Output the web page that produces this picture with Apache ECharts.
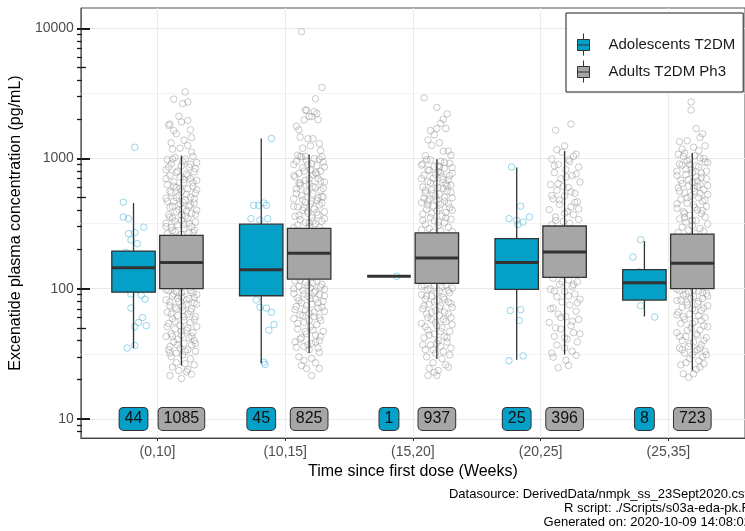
<!DOCTYPE html>
<html>
<head>
<meta charset="utf-8">
<script src="https://cdn.jsdelivr.net/npm/echarts@6/dist/echarts.min.js"></script>
<style>
  html, body { margin: 0; padding: 0; background: #fff; }
  #chart { width: 745px; height: 531px; }
</style>
</head>
<body>
<div id="chart"></div>
<script>
// categories / groups
const categories = ['(0,10]', '(10,15]', '(15,20]', '(20,25]', '(25,35]'];
const groups = ['Adolescents T2DM', 'Adults T2DM Ph3'];
const yTicks = [10, 100, 1000, 10000];
// annotation_logticks style marks + minor grid (half decades)
const logMinorTicks = [8, 9, 20, 30, 40, 60, 70, 80, 90, 200, 300, 400, 600, 700, 800, 900,
  2000, 3000, 4000, 6000, 7000, 8000, 9000];
const logMidTicks = [50, 500, 5000];
const halfDecades = [31.623, 316.23, 3162.3];

// box stats per bin: [lower whisker, Q1, median, Q3, upper whisker]
const adolBox = [
  [35, 94, 145, 194.5, 455],
  [26.8, 88.3, 140, 313, 1426],
  [124.5, 124.5, 124.5, 124.5, 124.5],
  [28.4, 98.9, 159, 242.5, 853],
  [61.2, 81.7, 111, 140, 232]
];
const adultBox = [
  [25.7, 100, 159, 257, 1054],
  [32, 118.6, 187, 291, 1074],
  [28.9, 110, 172, 268, 989],
  [31.2, 122, 191, 303, 1138],
  [23.5, 100, 157, 263, 1104]
];

// n per bin
const adolCount = [44, 45, 1, 25, 8];
const adultCount = [1085, 825, 937, 396, 723];

// observations: [jitter (1/100 of a bin), concentration]
const adolPoints = [
  [[1,1220],[-8,462],[-8,355],[-4,345],[8,297],[-4,265],[1,270],[-2,237],[3,222],[-2,91],[6,89],[9,83],[-2,71],[7,60],[1,51],[10,52],[4,55],[-5,35],[1,36.6],
   [0,150],[-5,120],[4,180],[-3,105],[6,130],[-7,160],[2,112],[8,175],[-1,140],[3,98],[-6,190],[5,155]],
  [[8,1426],[-6,437],[-2,437],[2,455],[4,437],[-8,345],[-1,336],[5,345],[-4,82],[-1,72],[4,71],[8,66],[10,53],[6,48],[2,27.3],[3,26.2],
   [0,120],[-5,150],[6,200],[-3,250],[2,180],[-7,100],[5,110],[-1,290],[8,230],[-4,95]],
  [[6,124.5]],
  [[-4,861],[3,430],[-6,345],[1,311],[5,325],[10,356],[0,335],[-5,68],[3,69],[2,57],[-6,28],[5,30.5],
   [0,150],[-4,200],[6,120],[-2,105],[3,230],[-7,170],[7,140]],
  [[-3,238],[-9,175],[-3,74],[8,60.5],[0,120],[3,100],[-4,135],[6,90]]
];
const adultPoints = [
  [[3,3250],[-6,2860],[1,2640],[5,2720],[-2,2115],[-9,1840],[-6,1640],[0,1910],[5,1960],[7,1660],[-8,1320],[-4,1550],[5,1260],[-1,1200],[8,1120],[-10,1800],[8,1450],[-7,1180],[2,1380],
   [-11,980],[-5,1020],[3,990],[9,1040],[12,930],[-8,910],[0,880],[6,860],[-12,820],[-3,800],[10,790],[4,760],[-9,740],[-1,720],[7,700],[12,680],[-6,660],[2,650],[-11,630],[9,610],[-4,600],[5,585],[0,560],[-8,545],[11,540],[-2,520],[7,505],[-12,495],[3,480],[-6,470],[10,455],[-1,445],[6,430],[-9,420],[1,410],[12,400],[-4,390],[8,380],[-10,370],[3,360],[-7,350],[5,345],[0,335],[11,325],[-12,318],[-3,310],[8,300],[-8,295],[2,290],[10,282],[-5,275],[6,268],[-11,265],[0,262],
   [-7,990],[1,945],[7,905],[-10,860],[11,835],[-4,780],[5,735],[-12,700],[2,690],[9,655],[-6,615],[-1,590],[12,575],[-9,560],[4,530],[-4,500],[10,490],[-11,470],[1,462],[7,440],[-7,430],[-2,405],[4,395],[11,372],[-9,355],[0,370],[-5,330],[6,318],[-12,300],[2,310],[9,270],[-7,280],
   [-10,97],[-4,95],[3,96],[9,93],[12,90],[-7,88],[0,86],[6,84],[-12,82],[-2,80],[10,78],[4,76],[-9,74],[-5,72],[8,70],[1,68],[-11,66],[5,64],[-3,62],[11,61],[-7,59],[2,57],[7,55],[-10,54],[-1,52],[12,51],[-5,49],[4,48],[9,46],[-8,45],[0,44],[-12,43],[6,42],[-3,41],[10,40],[-6,39],[2,38],[8,37],[-9,36],[-1,35],[5,34],[11,33],[-4,32],[1,31],
   [-12,98],[7,97],[0,93],[-6,91],[10,86],[-3,84],[4,82],[-9,79],[12,76],[1,73],[-4,70],[7,67],[-8,64],[2,61],[10,58],[-5,56],[-11,51],[5,50],[0,47],[-7,43],[8,43],[11,38],[-3,37],[3,33],[-10,34],
   [-9,32],[-8,30],[7,29],[-4,27],[3,26.5],[10,26],[-7,25],[5,24],[-2,23.5],[4,23],[-9,21.5],[0,20.4],[8,22]],
  [[-6,9420],[10,3515],[5,2880],[-3,2355],[6,2220],[0,2100],[-4,1980],[-8,1660],[-1,1420],[3,1420],[8,1300],[-7,1460],[-7,1040],[-3,1040],[10,1030],[-10,1770],[-2,2350],[2,2100],[7,1985],[4,2290],[-5,1200],[9,1150],[1,1250],
   [-9,1060],[4,1000],[-2,960],[11,940],[-12,900],[6,880],[-5,850],[1,820],[9,800],[-8,770],[3,745],[-11,720],[7,700],[-3,680],[12,660],[0,640],[-7,620],[5,600],[-10,585],[9,570],[-1,550],[3,535],[-6,520],[11,505],[-12,490],[6,475],[-3,460],[1,450],[8,440],[-9,425],[4,410],[-5,400],[12,390],[-1,380],[7,368],[-11,360],[2,350],[-7,340],[10,330],[-3,322],[5,315],[-9,308],[0,300],[8,296],[-12,294],[3,330],[-4,420],[10,510],[-8,640],[6,760],[-1,900],
   [-6,1030],[8,990],[-10,950],[2,910],[12,860],[-4,800],[5,780],[-12,740],[0,700],[9,670],[-7,650],[3,610],[11,590],[-2,565],[-10,540],[7,500],[-5,480],[2,470],[10,455],[-12,430],[-1,395],[6,385],[-8,365],[12,345],[0,320],
   [-11,115],[-3,112],[6,114],[10,108],[-8,104],[1,102],[12,99],[-5,97],[4,94],[-12,92],[8,90],[-1,87],[-9,85],[5,83],[11,80],[-6,78],[2,76],[-10,73],[7,71],[-3,69],[12,67],[0,65],[-7,63],[4,61],[-12,59],[9,57],[-4,55],[6,53],[1,51],[-9,49],[11,47],[-2,45],[5,44],[-6,42],[8,40],[-11,39],[2,38],[-4,36],[7,35],[0,34],
   [-7,116],[3,110],[-1,106],[9,103],[-12,100],[5,96],[-4,91],[12,88],[1,84],[-8,81],[7,78],[-2,74],[10,72],[-11,69],[4,66],[-5,62],[8,60],[0,57],[-9,54],[3,48],[-3,47],[9,43],[-7,41],[5,39],[-1,37],
   [-10,35.5],[-6,25.7],[-2,24.4],[2,21.5],[8,24.4],[8,32.4],[2,29.1],[-4,28],[5,27],[-8,30]],
  [[-10,2925],[0,2470],[8,2200],[5,2000],[3,1865],[0,1700],[-5,1640],[-7,1390],[-4,1260],[5,1140],[9,1140],[-2,1520],[2,1320],[-9,1050],[11,1060],[7,1700],
   [-8,980],[3,950],[10,920],[-12,890],[-2,870],[6,840],[-6,810],[1,790],[12,770],[-10,745],[4,725],[-3,705],[9,685],[-7,665],[0,645],[11,625],[-11,605],[5,590],[-4,575],[8,560],[-9,545],[2,530],[-1,515],[12,500],[-6,485],[6,470],[-12,458],[3,445],[-3,432],[10,420],[-8,408],[0,396],[7,385],[-11,374],[4,363],[-5,352],[11,342],[-2,332],[6,322],[-9,313],[1,305],[9,297],[-6,290],[-12,283],[3,278],[12,275],[-3,272],[7,640],[-7,470],[2,860],
   [-5,975],[6,930],[-11,910],[1,880],[12,850],[-7,820],[3,780],[-1,755],[10,740],[-12,700],[5,690],[-5,650],[8,615],[1,600],[-9,570],[11,550],[-3,540],[6,505],[-10,495],[0,480],[9,450],[-7,440],[2,415],[12,400],[-4,380],[7,350],[-11,335],[1,325],
   [-10,107],[-2,105],[7,106],[12,101],[-7,98],[2,96],[10,93],[-12,90],[-4,88],[5,86],[-9,83],[0,81],[9,79],[-6,76],[3,74],[12,72],[-11,70],[-1,68],[6,66],[-8,64],[2,62],[11,60],[-4,58],[7,56],[-12,54],[0,52],[4,50],[-7,48],[10,47],[-2,45],[6,43],[-10,42],[1,40],[8,39],[-5,37],[3,36],[-9,34],[5,33],[-1,32],[10,31],
   [-12,104],[4,103],[-5,100],[9,97],[0,92],[-8,88],[6,83],[-2,79],[11,77],[-10,74],[2,71],[-4,66],[9,64],[-7,60],[5,58],[-1,55],[12,53],[-9,51],[3,47],[-6,44],[8,42],[0,38],[-11,37],[11,35],[-3,34],
   [-8,30],[4,29],[-3,27],[7,26],[-6,24.5],[1,23.5],[9,25],[-7,21.5],[0,21.5],[-2,22.8]],
  [[5,1837],[-7,1650],[-6,1170],[7,1040],[0,1250],
   [-2,1120],[9,1080],[-10,990],[4,950],[-5,900],[11,860],[1,820],[-8,780],[6,740],[-3,700],[12,660],[-11,630],[3,600],[-6,570],[8,540],[0,515],[-9,490],[10,465],[-4,445],[5,425],[-12,405],[2,390],[7,370],[-7,355],[11,340],[-1,328],[4,318],[-10,310],[8,460],[-5,640],[1,720],
   [3,980],[-8,880],[9,760],[-1,610],[5,555],[-10,520],[-4,480],[11,410],[0,380],[-7,335],
   [-9,120],[3,117],[10,113],[-4,108],[6,104],[-11,99],[0,95],[8,91],[-6,87],[12,83],[-2,79],[4,75],[-9,71],[9,67],[-5,64],[1,61],[11,58],[-12,55],[5,52],[-3,49],[7,46],[-8,43],[2,41],[10,39],[-6,37],[0,35],[6,33],[-10,32],
   [-2,113],[7,108],[-8,96],[3,88],[10,78],[-11,70],[-3,60],[6,56],[-7,50],[12,45],[0,42],
   [-9,29.8],[-5,24.7],[1,28.2],[9,30.7],[3,25.7]],
  [[-1,2720],[-1,2355],[8,1550],[-10,1350],[-4,1370],[-6,1100],[6,1450],[3,1700],[-8,1180],[10,1250],[1,1220],[5,1150],
   [-11,1080],[2,1050],[9,1000],[-4,960],[12,930],[-8,890],[5,860],[-1,830],[-12,800],[7,775],[-5,750],[3,725],[11,700],[-9,680],[0,655],[6,635],[-3,615],[-11,595],[9,575],[2,560],[-6,545],[12,530],[-1,515],[5,500],[-9,485],[8,470],[-4,455],[1,440],[11,428],[-12,415],[4,402],[-7,390],[7,378],[-2,366],[10,355],[-10,344],[3,334],[-5,324],[12,314],[0,305],[-8,297],[6,290],[-3,282],[9,276],[-11,270],[2,266],[-6,380],[4,610],[-2,900],
   [-7,1040],[6,1010],[-2,980],[10,940],[-10,910],[3,880],[-5,830],[11,800],[0,780],[-12,740],[7,715],[-3,690],[4,670],[-8,640],[12,620],[1,590],[-10,560],[6,540],[-4,500],[10,480],[-12,450],[2,420],[8,400],[-6,350],[0,335],
   [-10,97],[-3,95],[5,96],[11,92],[-7,89],[1,87],[8,84],[-12,81],[-4,79],[4,77],[12,74],[-8,72],[0,70],[7,68],[-11,66],[-2,64],[5,62],[10,60],[-6,58],[2,56],[-9,54],[9,52],[-1,50],[6,48],[-12,46],[3,45],[-5,43],[11,42],[-8,40],[1,39],[7,37],[-3,36],[-10,35],[4,34],[10,33],[-6,32],[0,31],[8,30],[-2,29],[5,28],
   [-12,99],[1,98],[8,93],[-5,91],[12,88],[-1,84],[-9,82],[5,80],[-4,75],[9,71],[2,68],[-12,63],[-7,61],[7,57],[0,54],[12,51],[-4,48],[4,44],[-10,43],[9,40],[-2,38],[6,35],[-8,34],[2,33],[11,31],
   [-7,22.2],[-3,20.9],[1,22.2],[-9,26],[6,25],[3,24],[-5,27],[9,26.5]]
];

const footerLines = [
  'Datasource: DerivedData/nmpk_ss_23Sept2020.csv',
  'R script: ./Scripts/s03a-eda-pk.R',
  'Generated on: 2020-10-09 14:08:02'
];

const BLUE = '#05a0c8';
const GREY = '#a6a6a6';
const INK = '#333333';
const DODGE = 0.1875;   // ggplot dodge offset
const BOX_W = 0.34;
const LABEL_Y = 10;     // counts are written at y = 10
const Y_MIN = 7.13, Y_MAX = 14330;
const GRID_W = 668;
const FONT = '"Liberation Sans", Arial, Helvetica, sans-serif';

function jitter(points, offset) {
  const out = [];
  points.forEach(function (grp, i) {
    grp.forEach(function (p) { out.push([i + offset + p[0] / 100, p[1]]); });
  });
  return out;
}

function boxItem(offset, fill) {
  return function (params, api) {
    const x = api.value(0) + offset;
    const lo = api.coord([x, api.value(1)]);
    const q1 = api.coord([x, api.value(2)]);
    const med = api.coord([x, api.value(3)]);
    const q3 = api.coord([x, api.value(4)]);
    const hi = api.coord([x, api.value(5)]);
    const half = api.size([BOX_W, 0], [x, 10])[0] / 2;
    const line = { stroke: INK, lineWidth: 1.3 };
    return {
      type: 'group',
      children: [
        { type: 'line', shape: { x1: hi[0], y1: hi[1], x2: q3[0], y2: q3[1] }, style: line },
        { type: 'line', shape: { x1: q1[0], y1: q1[1], x2: lo[0], y2: lo[1] }, style: line },
        { type: 'rect', shape: { x: q3[0] - half, y: q3[1], width: half * 2, height: q1[1] - q3[1] },
          style: { fill: fill, stroke: INK, lineWidth: 1.3 } },
        { type: 'line', shape: { x1: med[0] - half, y1: med[1], x2: med[0] + half, y2: med[1] },
          style: { stroke: INK, lineWidth: 3 } }
      ]
    };
  };
}

function countItem(offset, fill) {
  return function (params, api) {
    const p = api.coord([api.value(0) + offset, LABEL_Y]);
    return {
      type: 'text', x: p[0], y: p[1],
      style: {
        text: String(api.value(1)), align: 'center', verticalAlign: 'middle',
        fontSize: 16, fontFamily: FONT, fill: '#111',
        backgroundColor: fill, borderColor: INK, borderWidth: 1, borderRadius: 4,
        padding: [4, 5, 2, 5]
      }
    };
  };
}

const chart = echarts.init(document.getElementById('chart'));

// extra log axes only used for tick marks / minor grid.
// They sit on the right, shifted back onto the left panel edge, ticks pointing into the panel.
function tickAxis(values, len, color, width, z) {
  return {
    type: 'log', min: Y_MIN, max: Y_MAX, position: 'right', offset: -GRID_W, z: z,
    axisLine: { show: false, onZero: false }, axisLabel: { show: false }, splitLine: { show: false },
    axisTick: { inside: false, length: len, lineStyle: { color: color, width: width }, customValues: values }
  };
}

chart.setOption({
  animation: false,
  textStyle: { fontFamily: FONT },
  grid: { left: 80, top: 8, width: GRID_W, height: 430, show: true, borderColor: '#555', borderWidth: 1 },
  legend: {
    data: groups, orient: 'vertical', left: 566, top: 13,
    padding: [20, 8, 9, 11], itemWidth: 12, itemHeight: 22, itemGap: 4,
    icon: 'path://M6,0L6,6M0,6L12,6L12,17L0,17ZM0,11.5L12,11.5M6,17L6,22',
    itemStyle: { borderColor: INK, borderWidth: 1 },
    textStyle: { fontSize: 15, color: '#1a1a1a', padding: [0, 0, 0, 14] },
    borderColor: '#1a1a1a', borderWidth: 1, backgroundColor: '#fff'
  },
  xAxis: {
    type: 'value', min: -0.6, max: 4.6, splitNumber: 5,
    axisLine: { lineStyle: { color: '#444' } },
    axisTick: { length: 3, lineStyle: { color: '#333' }, customValues: [0, 1, 2, 3, 4] },
    axisLabel: {
      customValues: [0, 1, 2, 3, 4], fontSize: 14, color: '#4d4d4d', margin: 7,
      formatter: function (v) { return Number.isInteger(v) ? categories[v] : ''; }
    },
    splitLine: { lineStyle: { color: '#ebebeb' } },
    name: 'Time since first dose (Weeks)', nameLocation: 'middle', nameGap: 22,
    nameTextStyle: { fontSize: 16, color: '#000' }
  },
  yAxis: [
    {
      type: 'log', min: Y_MIN, max: Y_MAX, position: 'left', z: 1,
      axisLine: { onZero: false, lineStyle: { color: '#666' } },
      axisTick: { length: 3, lineStyle: { color: '#333' }, customValues: yTicks },
      axisLabel: {
        customValues: yTicks, fontSize: 14, color: '#4d4d4d', margin: 7,
        formatter: function (v) { return yTicks.indexOf(Math.round(v)) >= 0 ? String(Math.round(v)) : ''; }
      },
      splitLine: { lineStyle: { color: '#e8e8e8' } },
      name: 'Excenatide plasma concentration (pg/mL)', nameLocation: 'middle', nameGap: 51, nameRotate: 90,
      nameTextStyle: { fontSize: 16, color: '#000' }
    },
    tickAxis(yTicks, 13, '#1a1a1a', 2, 2),
    tickAxis(logMinorTicks, 5, '#1a1a1a', 1.3, 2),
    tickAxis(logMidTicks, 9, '#1a1a1a', 1.3, 2),
    // minor grid at half decades, drawn as full-width light ticks
    tickAxis(halfDecades, GRID_W, '#f0f0f0', 0.8, 0)
  ],
  series: [
    {
      name: 'adult obs', type: 'scatter', z: 1, silent: true, symbol: 'circle', symbolSize: 6.5,
      itemStyle: { color: 'rgba(0,0,0,0)', borderColor: 'rgba(145,145,145,0.6)', borderWidth: 1 },
      data: jitter(adultPoints, DODGE)
    },
    {
      name: 'adol obs', type: 'scatter', z: 1, silent: true, symbol: 'circle', symbolSize: 6.5,
      itemStyle: { color: 'rgba(0,0,0,0)', borderColor: 'rgba(80,185,222,0.75)', borderWidth: 1 },
      data: jitter(adolPoints, -DODGE)
    },
    {
      name: groups[0], type: 'custom', z: 3, silent: true, itemStyle: { color: BLUE },
      renderItem: boxItem(-DODGE, BLUE), encode: { x: 0, y: [1, 2, 3, 4, 5] },
      data: adolBox.map(function (b, i) { return [i].concat(b); })
    },
    {
      name: groups[1], type: 'custom', z: 3, silent: true, itemStyle: { color: GREY },
      renderItem: boxItem(DODGE, GREY), encode: { x: 0, y: [1, 2, 3, 4, 5] },
      data: adultBox.map(function (b, i) { return [i].concat(b); })
    },
    {
      name: 'adol n', type: 'custom', z: 4, silent: true,
      renderItem: countItem(-DODGE, BLUE), encode: { x: 0 },
      data: adolCount.map(function (n, i) { return [i, n]; })
    },
    {
      name: 'adult n', type: 'custom', z: 4, silent: true,
      renderItem: countItem(DODGE, GREY), encode: { x: 0 },
      data: adultCount.map(function (n, i) { return [i, n]; })
    }
  ],
  graphic: footerLines.map(function (t, i) {
    return {
      type: 'text', x: 751, y: 494 + i * 14,
      style: { text: t, align: 'right', verticalAlign: 'middle', fontSize: 13, fontFamily: FONT, fill: '#000' }
    };
  })
});
</script>
</body>
</html>
